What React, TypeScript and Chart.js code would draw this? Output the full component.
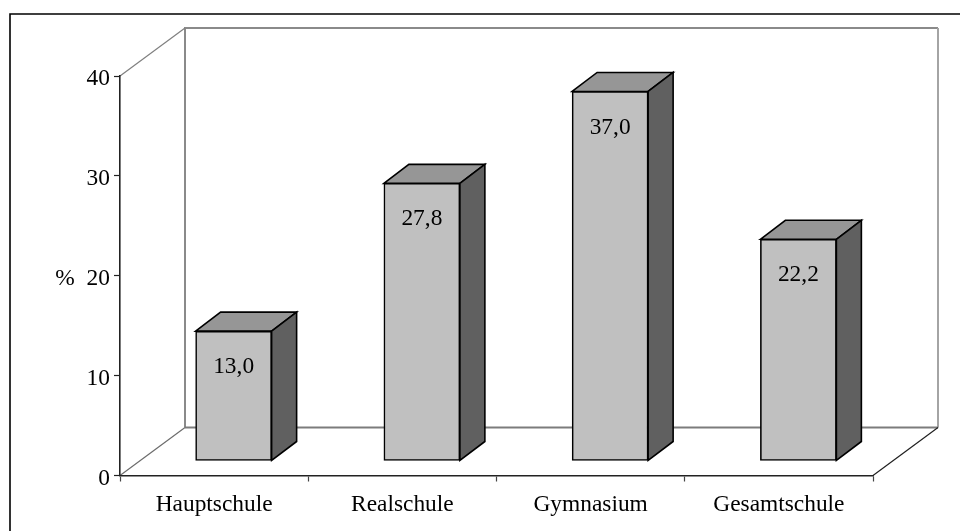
import React, { useEffect, useRef } from "react";
import { Chart, registerables } from "chart.js";

Chart.register(...registerables);

const categories = ["Hauptschule", "Realschule", "Gymnasium", "Gesamtschule"];
const percentValues = [13.0, 27.8, 37.0, 22.2];
const yTicks = [0, 10, 20, 30, 40];
const yUnit = "%";

const FONT = '"Liberation Serif", "Times New Roman", serif';
const FONT_SIZE = 23.4;
const WALL_DX = 65;
const WALL_DY = 48;
const BAR_SHIFT_X = 19.5;
const BAR_SHIFT_Y = 14.5;
const BAR_DEPTH_X = 25;
const BAR_DEPTH_Y = 19;

function line(ctx: CanvasRenderingContext2D, pts: number[][], color: string, width: number) {
  ctx.save();
  ctx.strokeStyle = color;
  ctx.lineWidth = width;
  ctx.beginPath();
  pts.forEach((p, i) => (i ? ctx.lineTo(p[0], p[1]) : ctx.moveTo(p[0], p[1])));
  ctx.stroke();
  ctx.restore();
}

function poly(ctx: CanvasRenderingContext2D, pts: number[][], fill: string) {
  ctx.save();
  ctx.fillStyle = fill;
  ctx.strokeStyle = "#000";
  ctx.lineWidth = 1.6;
  ctx.lineJoin = "miter";
  ctx.beginPath();
  pts.forEach((p, i) => (i ? ctx.lineTo(p[0], p[1]) : ctx.moveTo(p[0], p[1])));
  ctx.closePath();
  ctx.fill();
  ctx.stroke();
  ctx.restore();
}

const box3d = {
  id: "box3d",
  beforeDraw(chart: any) {
    const { ctx, chartArea: a } = chart;
    // outer frame (top and left only are visible in the picture)
    line(ctx, [[10, chart.height], [10, 14], [chart.width, 14]], "#000", 1.6);
    const bx0 = a.left + WALL_DX;
    const bx1 = a.right + WALL_DX;
    const by0 = a.top - WALL_DY;
    const by1 = a.bottom - WALL_DY;
    // back wall
    line(ctx, [[bx0, by1], [bx0, by0], [bx1, by0]], "#8a8a8a", 2);
    line(ctx, [[bx1, by0], [bx1, by1]], "#a4a4a4", 2);
    line(ctx, [[bx0, by1], [bx1, by1]], "#7c7c7c", 2);
    // side wall and floor diagonals
    line(ctx, [[a.left, a.top], [bx0, by0]], "#808080", 1.2);
    line(ctx, [[a.left, a.bottom], [bx0, by1]], "#6c6c6c", 1.2);
    line(ctx, [[a.right, a.bottom], [bx1, by1]], "#202020", 1.2);
  },
  beforeDatasetDraw(chart: any) {
    const { ctx } = chart;
    chart.getDatasetMeta(0).data.forEach((bar: any) => {
      const l = bar.x - bar.width / 2 + BAR_SHIFT_X;
      const r = bar.x + bar.width / 2 + BAR_SHIFT_X;
      const t = bar.y - BAR_SHIFT_Y;
      const b = bar.base - BAR_SHIFT_Y;
      poly(ctx, [[l, t], [l + BAR_DEPTH_X, t - BAR_DEPTH_Y], [r + BAR_DEPTH_X, t - BAR_DEPTH_Y], [r, t]], "#969696");
      poly(ctx, [[r, t], [r + BAR_DEPTH_X, t - BAR_DEPTH_Y], [r + BAR_DEPTH_X, b - BAR_DEPTH_Y], [r, b]], "#606060");
    });
    ctx.save();
    ctx.translate(BAR_SHIFT_X, -BAR_SHIFT_Y);
  },
  afterDatasetDraw(chart: any) {
    const { ctx, chartArea: a } = chart;
    ctx.restore();
    ctx.save();
    ctx.fillStyle = "#000";
    ctx.font = `${FONT_SIZE}px ${FONT}`;
    ctx.textAlign = "center";
    ctx.textBaseline = "middle";
    chart.getDatasetMeta(0).data.forEach((bar: any, i: number) => {
      const label = percentValues[i].toFixed(1).replace(".", ",");
      ctx.fillText(label, bar.x + BAR_SHIFT_X, bar.y - BAR_SHIFT_Y + 36);
    });
    ctx.fillText(yUnit, 65, (a.top + a.bottom) / 2 + 3);
    ctx.restore();
  },
};

export default function App() {
  const ref = useRef<HTMLCanvasElement>(null);
  useEffect(() => {
    document.body.style.margin = "0";
    const chart = new Chart(ref.current as HTMLCanvasElement, {
      type: "bar",
      data: {
        labels: categories,
        datasets: [
          {
            data: percentValues,
            backgroundColor: "#c0c0c0",
            borderColor: "#000",
            borderWidth: 1.6,
            borderSkipped: false,
            barThickness: 76,
          },
        ],
      },
      options: {
        animation: false,
        responsive: false,
        devicePixelRatio: 1,
        layout: { padding: { top: 76, right: 87, left: 0, bottom: 0 } },
        plugins: { legend: { display: false }, tooltip: { enabled: false } },
        scales: {
          x: {
            afterFit: (s: any) => {
              s.height = 55.5;
            },
            grid: { drawOnChartArea: false, tickLength: 6, tickColor: "#444", tickWidth: 1.2 },
            border: { color: "#222", width: 1.6 },
            ticks: {
              color: "#000",
              font: { family: FONT, size: FONT_SIZE },
              padding: 9,
              maxRotation: 0,
            },
          },
          y: {
            min: 0,
            max: 40,
            afterFit: (s: any) => {
              s.width = 120;
            },
            afterBuildTicks: (s: any) => {
              s.ticks = yTicks.map((value) => ({ value }));
            },
            afterUpdate: (s: any) => {
              // the reference's tick labels sit a little below their tick marks
              const draw = Object.getPrototypeOf(s).drawLabels;
              s.drawLabels = function (area: any) {
                s.ctx.save();
                s.ctx.translate(0, 3);
                draw.call(s, area);
                s.ctx.restore();
              };
            },
            grid: { drawOnChartArea: false, tickLength: 6, tickColor: "#222", tickWidth: 1.2 },
            border: { color: "#222", width: 1.6 },
            ticks: {
              color: "#000",
              font: { family: FONT, size: FONT_SIZE },
              padding: 4,
            },
          },
        },
      },
      plugins: [box3d],
    } as any);
    return () => chart.destroy();
  }, []);
  return <canvas ref={ref} width={960} height={531} style={{ display: "block", width: 960, height: 531 }} />;
}
